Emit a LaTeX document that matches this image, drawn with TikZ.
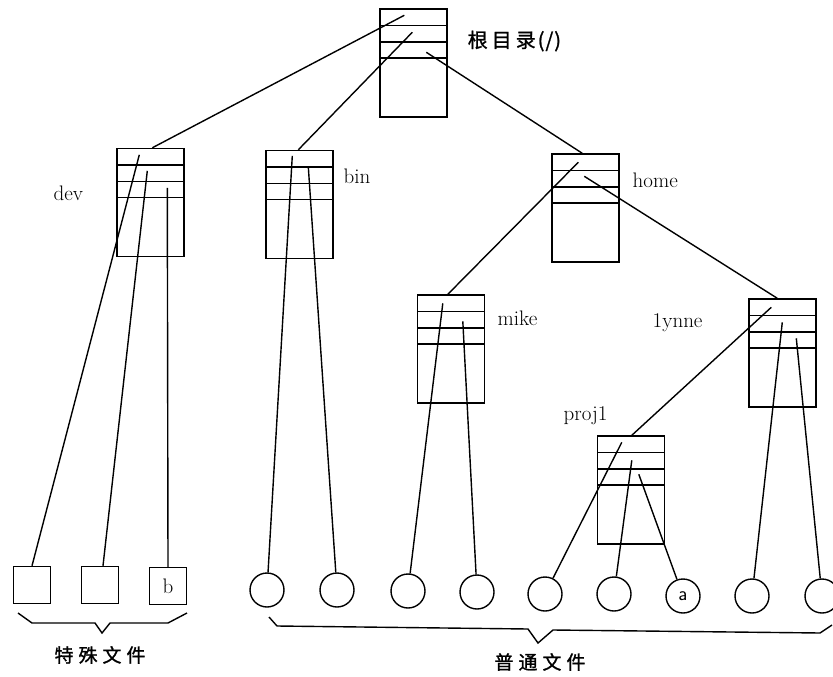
\documentclass[tikz,border=0pt]{standalone}
\usepackage{fontspec}
\newfontfamily\cjk[FakeBold=1.2]{Noto Sans CJK SC}
\usetikzlibrary{calc}
\begin{document}
\begin{tikzpicture}[x=1pt,y=-1pt,line width=1.4pt,
  dirbox/.style={draw,rectangle,minimum width=67pt,minimum height=108pt,inner sep=0pt,
    path picture={\foreach \r in {16.5,33,49}
      \draw[line width=1.6pt] ([yshift=-\r pt]path picture bounding box.north west) -- ([yshift=-\r pt]path picture bounding box.north east);}},
  sqfile/.style={draw,rectangle,minimum size=37pt,inner sep=0pt,font=\fontsize{21}{24}\selectfont},
  cfile/.style={draw,circle,minimum size=34pt,inner sep=0pt,font=\sffamily\fontsize{20}{22}\selectfont},
  dirlab/.style={anchor=base west,inner sep=0pt,font=\fontsize{21}{25}\selectfont},
  cjklab/.style={inner sep=0pt,font=\cjk\fontsize{19}{22}\selectfont}]
\useasboundingbox (0,0) rectangle (833,677);

% directory boxes
\node[dirbox] (root)  at (413.5,63)   {};
\node[dirbox] (dev)   at (150.5,202.5) {};
\node[dirbox] (bin)   at (299.5,204.5) {};
\node[dirbox] (home)  at (585.5,208)  {};
\node[dirbox] (mike)  at (451,349)    {};
\node[dirbox] (lynne) at (782.5,353)  {};
\node[dirbox] (proj1) at (631,490)    {};

% leaf files
\node[sqfile] (s1) at (32,585) {};
\node[sqfile] (s2) at (100,585) {};
\node[sqfile] (s3) at (168,586) {b};
\node[cfile] (c1) at (267,590) {};
\node[cfile] (c2) at (337,590) {};
\node[cfile] (c3) at (408,591) {};
\node[cfile] (c4) at (477,592) {};
\node[cfile] (c5) at (545,594) {};
\node[cfile] (c6) at (614,594) {};
\node[cfile] (c7) at (683,596) {a};
\node[cfile] (c8) at (752,596) {};
\node[cfile] (c9) at (822,596) {};

% labels
\node[anchor=west,inner sep=0pt,font=\cjk\fontsize{20}{24}\selectfont] (rootlab) at (467,41) {根\hspace{4pt}目\hspace{4pt}录\hspace{2pt}(\hspace{1pt}/\hspace{1pt})};
\node[dirlab] (devlab) at (53,200) {dev};
\node[dirlab] (binlab) at (343,183) {bin};
\node[dirlab] (homelab) at (632,187) {home};
\node[dirlab] (mikelab) at (497,325) {mike};
\node[dirlab] (lynnelab) at (652,327) {1ynne};
\node[dirlab] (projlab) at (563,420) {proj1};
\node[cjklab] (speclab) at (100,655) {特\hspace{5pt}殊\hspace{5pt}文\hspace{5pt}件};
\node[cjklab] (normlab) at (540,662) {普\hspace{5pt}通\hspace{5pt}文\hspace{5pt}件};

% entry points inside the directories
\coordinate (r1) at ($(root.north west)+(25,7)$);
\coordinate (r2) at ($(root.north west)+(33,24)$);
\coordinate (r3) at ($(root.north west)+(47,44)$);
\coordinate (d1) at ($(dev.north west)+(23,7)$);
\coordinate (d2) at ($(dev.north west)+(31,23)$);
\coordinate (d3) at ($(dev.north west)+(51,40)$);
\coordinate (b1) at ($(bin.north west)+(27,6)$);
\coordinate (b2) at ($(bin.north west)+(43,17)$);
\coordinate (h1) at ($(home.north west)+(27,9)$);
\coordinate (h2) at ($(home.north west)+(33,23)$);
\coordinate (m1) at ($(mike.north west)+(26,9)$);
\coordinate (m2) at ($(mike.north west)+(46,27)$);
\coordinate (l1) at ($(lynne.north west)+(23,9)$);
\coordinate (l2) at ($(lynne.north west)+(34,24)$);
\coordinate (l3) at ($(lynne.north west)+(48,40)$);
\coordinate (p1) at ($(proj1.north west)+(25,7)$);
\coordinate (p2) at ($(proj1.north west)+(35,25)$);
\coordinate (p3) at ($(proj1.north west)+(42,39)$);

% connectors
\draw (r1) -- ($(dev.north west)+(36,0)$);
\draw (r2) -- ($(bin.north west)+(33,0)$);
\draw (r3) -- ($(home.north west)+(31,0)$);
\draw (d1) -- (s1.north);
\draw (d2) -- ($(s2.north)+(3,0)$);
\draw (d3) -- (s3.north);
\draw (b1) -- (c1);
\draw (b2) -- (c2);
\draw (h1) -- ($(mike.north west)+(31,0)$);
\draw (h2) -- ($(lynne.north west)+(29,0)$);
\draw (m1) -- (c3);
\draw (m2) -- (c4);
\draw (l1) -- ($(proj1.north west)+(35,0)$);
\draw (l2) -- (c8);
\draw (l3) -- (c9);
\draw (p1) -- (c5);
\draw (p2) -- (c6);
\draw (p3) -- (c7);

% braces
\draw (18,613) -- (32,623) -- (95,623) -- (102,633) -- (110,623) -- (168,623) -- (187,613);
\draw (269,617) -- (277,626) -- (528,629) -- (538,643) -- (553,630) -- (820,633) -- (832,625);
\end{tikzpicture}
\end{document}
